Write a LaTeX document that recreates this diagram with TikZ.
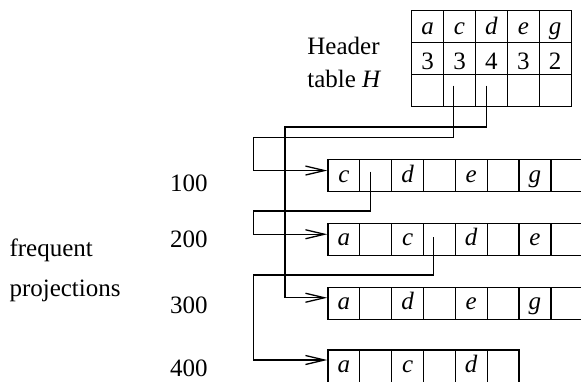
\documentclass[tikz,border=0pt]{standalone}
\usepackage{fontspec}
\setmainfont{Liberation Serif}
\usetikzlibrary{arrows.meta}
\begin{document}
\begin{tikzpicture}[x=1pt,y=-1pt,
  cellbox/.style={draw,line width=1.3pt,minimum width=31.85pt,minimum height=31.8pt,inner sep=0pt,anchor=north west},
  hcell/.style={draw,line width=1.3pt,minimum width=31.9pt,minimum height=32pt,inner sep=0pt,anchor=north west},
  lbl/.style={anchor=base,inner sep=0pt,font=\fontsize{25}{29}\selectfont},
  ptr/.style={line width=1.3pt,-{Straight Barb[length=19pt,width=9pt,line width=1.3pt]}}]
\useasboundingbox (0,0) rectangle (581,381);
% header table
\foreach \j in {1,2,3}{
  \foreach \i in {1,...,5}{
    \node[hcell] (h\j\i) at ({411+(\i-1)*31.9},{10+(\j-1)*32}) {};
  }
}
\foreach \i/\t in {1/a,2/c,3/d,4/e,5/g}
  \node[lbl] (ht\i) at ([yshift=9pt]h1\i.south) {\textit{\t}};
\foreach \i/\t in {1/3,2/3,3/4,4/3,5/2}
  \node[lbl] (hn\i) at ([yshift=5.7pt]h2\i.south) {\t};
\node[lbl,anchor=base west] (hd1) at (307.2,54.3) {Header};
\node[lbl,anchor=base west] (hd2) at (307.2,87.7) {table \textit{H}};
% lists
\foreach \r/\y/\n in {1/159/8,2/222.7/8,3/286.7/8}{
  \foreach \k in {1,...,\n}{
    \node[cellbox] (l\r-\k) at ({327.3+(\k-1)*31.85},\y) {};
  }
}
\foreach \k in {1,...,6}{
  \node[cellbox,minimum height=36pt] (l4-\k) at ({327.3+(\k-1)*31.85},349.3) {};
}
\foreach \r/\k/\t in {1/1/c,1/3/d,1/5/e,1/7/g,
                      2/1/a,2/3/c,2/5/d,2/7/e,
                      3/1/a,3/3/d,3/5/e,3/7/g}
  \node[lbl] (t\r-\k) at ([yshift=10pt]l\r-\k.south) {\textit{\t}};
\foreach \k/\t in {1/a,3/c,5/d}
  \node[lbl] (t4-\k) at ([yshift=14.2pt]l4-\k.south) {\textit{\t}};
% labels
\node[lbl,anchor=base west] (n1) at (170,191.7) {100};
\node[lbl,anchor=base west] (n2) at (170,247.3) {200};
\node[lbl,anchor=base west] (n3) at (170,313) {300};
\node[lbl,anchor=base west] (n4) at (170,376) {400};
\node[lbl,anchor=base west] (fp1) at (9.3,256.5) {frequent};
\node[lbl,anchor=base west] (fp2) at (9.3,296) {projections};
% pointers
\coordinate (hcp) at ([xshift=-6pt,yshift=5pt]h32.center);
\coordinate (hdp) at ([xshift=-5pt,yshift=5pt]h33.center);
\coordinate (r1p) at ([xshift=-5pt,yshift=4pt]l1-2.center);
\coordinate (r2p) at ([xshift=-6pt,yshift=2pt]l2-4.center);
\coordinate (b1) at (253.3,137.3);
\coordinate (b2) at (285,127);
\coordinate (b3) at (253.3,211);
\coordinate (b4) at (253.3,275);
\draw[ptr] (hcp) |- (b1) |- ([yshift=5pt]l1-1.west);
\draw[ptr] (hdp) |- (b2) |- ([yshift=5.5pt]l3-1.west);
\draw[ptr] (r1p) |- (b3) |- ([yshift=5pt]l2-1.west);
\draw[ptr] (r2p) |- (b4) |- (l4-1.west |- 0,360);
\end{tikzpicture}
\end{document}
